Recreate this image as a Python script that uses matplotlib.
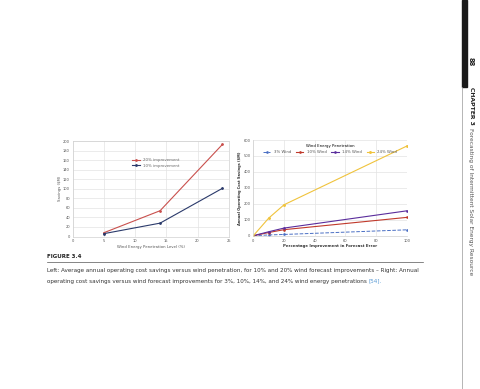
import matplotlib.pyplot as plt
import numpy as np

# left chart: savings vs wind penetration
pen_levels = [5, 14, 24]
save_20 = [8, 54, 193]
save_10 = [6, 28, 101]

# right chart: savings vs forecast improvement
improve = [0, 10, 20, 100]
wind_3 = [0, 5, 8, 37]
wind_10 = [0, 20, 38, 115]
wind_14 = [0, 25, 48, 156]
wind_24 = [0, 110, 194, 562]

fig = plt.figure(figsize=(4.8, 3.89), dpi=100)
plt.rcParams["font.family"] = "DejaVu Sans"

tick_fs = 2.6
grid_c = '#e3e3e3'

# ---- left chart
ax1 = fig.add_axes([0.1515, 0.392, 0.325, 0.2455])
ax1.plot(pen_levels, save_20, color='#c9504d', lw=0.8, marker='o', ms=1.0, label='20% improvement')
ax1.plot(pen_levels, save_10, color='#2b3a6b', lw=0.8, marker='o', ms=1.0, label='10% improvement')
ax1.set_xlim(0, 25)
ax1.set_ylim(0, 200)
ax1.set_xticks(np.arange(0, 26, 5))
ax1.set_yticks(np.arange(0, 201, 20))
ax1.set_xlabel('Wind Energy Penetration Level (%)', fontsize=2.8, color='#555555', labelpad=1)
ax1.set_ylabel('Savings ($M)', fontsize=2.8, color='#555555', labelpad=1)
ax1.grid(color=grid_c, lw=0.5)
ax1.legend(loc='upper left', bbox_to_anchor=(0.36, 0.86), fontsize=2.8, frameon=False,
           handlelength=2, labelcolor='#666666')

# ---- right chart
ax2 = fig.add_axes([0.5277, 0.394, 0.3196, 0.246])
ax2.plot(improve, wind_3, color='#4a6fc4', lw=0.7, ls='--', marker='o', ms=0.9, label='3% Wind')
ax2.plot(improve, wind_10, color='#c0392b', lw=0.8, marker='o', ms=0.9, label='10% Wind')
ax2.plot(improve, wind_14, color='#5a2d9c', lw=0.8, marker='o', ms=0.9, label='14% Wind')
ax2.plot(improve, wind_24, color='#f0c33c', lw=0.8, marker='o', ms=1.1, label='24% Wind')
ax2.set_xlim(0, 100)
ax2.set_ylim(0, 600)
ax2.set_xticks(np.arange(0, 101, 20))
ax2.set_yticks(np.arange(0, 601, 100))
ax2.set_xlabel('Percentage Improvement in Forecast Error', fontsize=2.8, color='#333333',
               fontweight='bold', labelpad=1)
ax2.set_ylabel('Annual Operating Cost Savings ($M)', fontsize=2.6, color='#333333',
               fontweight='bold', labelpad=1)
ax2.grid(color=grid_c, lw=0.5)
ax2.legend(loc='upper center', bbox_to_anchor=(0.5, 0.99), ncol=4, fontsize=2.8, frameon=False,
           title='Wind Energy Penetration', title_fontsize=2.8, handlelength=2,
           columnspacing=1.2, labelcolor='#555555')

for ax in (ax1, ax2):
    ax.tick_params(labelsize=tick_fs, length=0, pad=2, colors='#555555')
    for s in ax.spines.values():
        s.set_color('#d0d0d0')
        s.set_linewidth(0.5)
ax2.spines['top'].set_visible(False)
ax2.spines['right'].set_visible(False)

# ---- caption
fig.text(47/480, 1-256/389, 'FIGURE 3.4', fontsize=4, fontweight='bold', color='#222222', va='center')
fig.add_artist(plt.Line2D([47/480, 423/480], [1-262/389, 1-262/389], color='#555555', lw=0.5))
fig.text(47/480, 1-270.5/389,
         'Left: Average annual operating cost savings versus wind penetration, for 10% and 20% '
         'wind forecast improvements \u2013 Right: Annual',
         fontsize=4.1, color='#333333', va='center')
cap2 = fig.text(47/480, 1-281/389,
                'operating cost savings versus wind forecast improvements for 3%, 10%, 14%, '
                'and 24% wind energy penetrations ',
                fontsize=4.1, color='#333333', va='center')
fig.canvas.draw()
bb = cap2.get_window_extent()
fig.text(bb.x1/480, 1-281/389, '[54].', fontsize=4.1, color='#5b9bd5', va='center')

# ---- running head on the right
fig.add_artist(plt.Rectangle((461.5/480, 1-87/389), 5.5/480, 87/389, color='#1a1a1a',
                             transform=fig.transFigure))
fig.add_artist(plt.Line2D([462/480, 462/480], [0, 1-87/389], color='#999999', lw=0.5))
fig.text(471/480, 1-62/389, '88', rotation=270, fontsize=4.8, fontweight='bold',
         ha='center', va='center', color='#222222')
chap = fig.text(471/480, 1-87/389, 'CHAPTER 3', rotation=270, fontsize=4.4, fontweight='bold',
                ha='center', va='top', color='#222222')
fig.canvas.draw()
cb = chap.get_window_extent()
fig.text(471/480, (cb.y0 - 3)/389, 'Forecasting of Intermittent Solar Energy Resource', rotation=270,
         fontsize=4.2, ha='center', va='top', color='#555555')

fig.savefig('out.png', dpi=100)
